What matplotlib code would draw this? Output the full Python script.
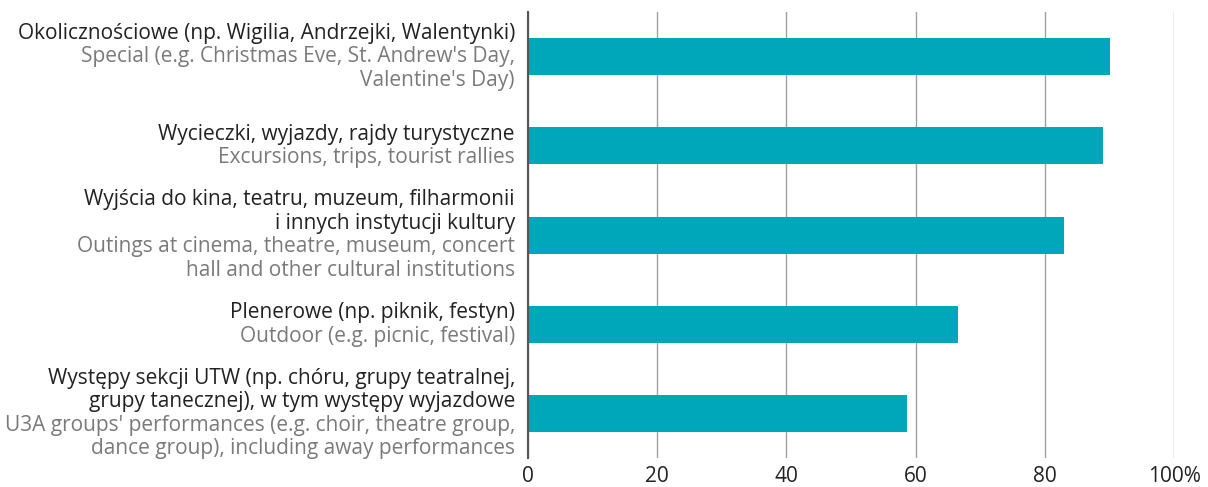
import matplotlib
matplotlib.use("Agg")
import matplotlib.pyplot as plt

# --- DATA ---
pl_labels = [
    "Okolicznościowe (np. Wigilia, Andrzejki, Walentynki)",
    "Wycieczki, wyjazdy, rajdy turystyczne",
    "Wyjścia do kina, teatru, muzeum, filharmonii\ni innych instytucji kultury",
    "Plenerowe (np. piknik, festyn)",
    "Występy sekcji UTW (np. chóru, grupy teatralnej,\ngrupy tanecznej), w tym występy wyjazdowe",
]
en_labels = [
    "Special (e.g. Christmas Eve, St. Andrew's Day,\nValentine's Day)",
    "Excursions, trips, tourist rallies",
    "Outings at cinema, theatre, museum, concert\nhall and other cultural institutions",
    "Outdoor (e.g. picnic, festival)",
    "U3A groups' performances (e.g. choir, theatre group,\ndance group), including away performances",
]
values = [90, 89, 83, 66.6, 58.6]
xticks = [0, 20, 40, 60, 80, 100]
xtick_labels = ["0", "20", "40", "60", "80", "100%"]

# --- STYLE ---
BAR_COLOR = "#00a6b9"
PL_COLOR = "#222222"
EN_COLOR = "#7a7a7a"
FONT = ["Open Sans", "DejaVu Sans"]
plt.rcParams["font.family"] = FONT

fig = plt.figure(figsize=(12.08, 4.87), dpi=100)
ax = fig.add_axes([0.437, 0.0595, 0.535, 0.9155])

pos = list(range(len(values)))
ax.barh(pos, values, height=0.415, color=BAR_COLOR, zorder=3)

ax.set_xlim(0, 100)
ax.set_ylim(4.5, -0.5)
ax.set_xticks(xticks)
ax.set_xticklabels(xtick_labels, fontsize=15, color="#222222")
ax.tick_params(axis="x", length=0, pad=6)
ax.set_yticks([])

ax.grid(axis="x", color="#a0a0a0", linewidth=1, zorder=0)
for s in ["top", "right", "bottom"]:
    ax.spines[s].set_visible(False)
ax.spines["left"].set_color("#555555")
ax.spines["left"].set_linewidth(1.5)
ax.spines["left"].set_zorder(4)

# category labels: Polish in dark, English in grey, centred on each bar
line_h = 23.5
for i, (pl, en) in enumerate(zip(pl_labels, en_labels)):
    lines = [(t, PL_COLOR) for t in pl.split("\n")] + [(t, EN_COLOR) for t in en.split("\n")]
    n = len(lines)
    for k, (txt, col) in enumerate(lines):
        off = ((n - 1) / 2 - k) * line_h
        ax.annotate(txt, xy=(0, i), xycoords=("axes fraction", "data"),
                    xytext=(-13, off), textcoords="offset pixels",
                    ha="right", va="center", fontsize=15, color=col)

fig.savefig("out.png", dpi=100)
